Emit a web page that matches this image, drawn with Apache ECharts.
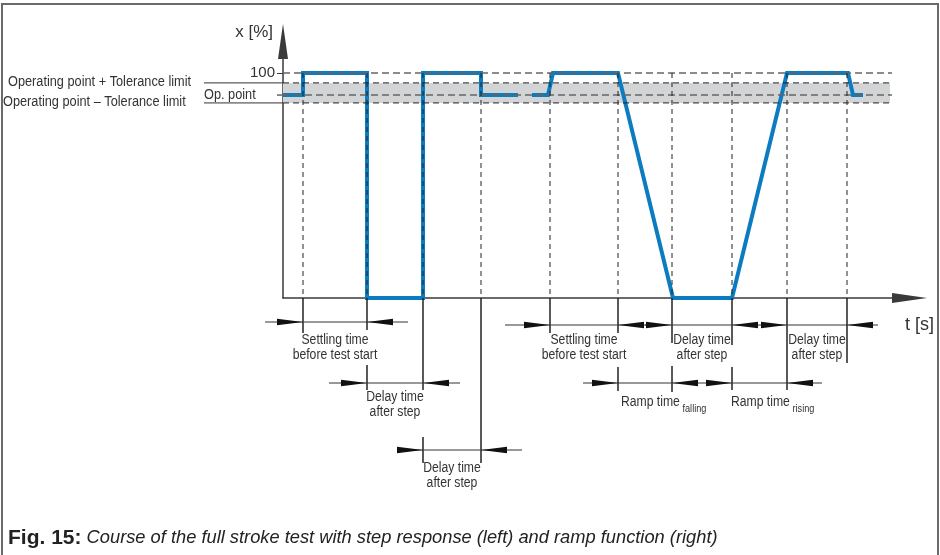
<!DOCTYPE html>
<html><head><meta charset="utf-8">
<script src="https://cdn.jsdelivr.net/npm/echarts@6/dist/echarts.min.js"></script>
<style>html,body{margin:0;padding:0;background:#fff}#c{width:940px;height:555px}</style>
</head><body><div id="c"></div>
<script>
// ---------------- data ----------------
// valve position x [%] over time t [s]
const stepTime  = [0, 2, 2, 8.4, 8.4, 14, 14, 19.8, 19.8, 23.5];
const stepValue = [90.2, 90.2, 100, 100, 0, 0, 100, 100, 90.2, 90.2];
const rampTime  = [24.9, 26.5, 27, 33.5, 39, 44.9, 50.4, 56.5, 57, 58];
const rampValue = [90.2, 90.2, 100, 100, 0, 0, 100, 100, 90.2, 90.2];
const fullStroke = 100;
const opPoint = 90.2;
const tolUpper = 95.6;
const tolLower = 86.7;
const levelEnd = 60.9;
const bandEnd = 60.7;
const markerTimes = [2, 8.4, 14, 19.8, 26.7, 33.5, 38.9, 44.9, 50.4, 56.4];
const spanStart = [2, 8.4, 14, 26.7, 38.9, 50.4, 33.5, 44.9];
const spanEnd   = [8.4, 14, 19.8, 33.5, 44.9, 56.4, 38.9, 50.4];
const spanText  = ['Settling time\nbefore test start', 'Delay time\nafter step', 'Delay time\nafter step',
                   'Settling time\nbefore test start', 'Delay time\nafter step', 'Delay time\nafter step',
                   'Ramp time', 'Ramp time'];
const spanSub   = ['', '', '', '', '', '', 'falling', 'rising'];
const yTickLabels = [100];
const yAxisName = 'x [%]';
const xAxisName = 't [s]';
const labelPlus = 'Operating point + Tolerance limit';
const labelMinus = 'Operating point \u2013 Tolerance limit';
const labelOp = 'Op. point';
const captionBold = 'Fig. 15:';
const captionText = ' Course of the full stroke test with step response (left) and ramp function (right)';

// ---------------- layout / style ----------------
const FONT = "'Liberation Sans',Arial,sans-serif";
const SX = 0.87;            // horizontal squeeze to mimic the condensed face
const TXT = '#333';
const BLUE = '#0b7cbf';
const spanRow   = [24, 85, 152, 27, 27, 27, 85, 85];     // px below t axis
const spanTailL = [38, 38, 26, 45, 27, 27, 35, 30];
const spanTailR = [41, 37, 41, 28, 28, 31, 30, 35];
const spanTextY = [35, 92, 163, 35, 35, 35, 97, 97];
const spanTextDX = [0, 0, 0, 0, 0, 0, 3, -1];
const markerExt = [[[0,35]], [[0,32],[67,92]], [[0,92],[139,165]], [[0,165]], [[0,35]],
                   [[0,35],[69,93]], [[0,45],[68,94]], [[0,47],[69,92]], [[0,92]], [[0,65]]];
const HEAD = 26, HW = 3.3;

const chart = echarts.init(document.getElementById('c'), null, {renderer: 'canvas'});

function pairs(a, b) { return a.map((v, i) => [v, b[i]]); }

const option = {
  animation: false,
  grid: {left: 283, right: 30.5, top: 41.5, bottom: 257, containLabel: false},
  xAxis: {
    type: 'value', min: 0, max: 62.65,
    axisLine: {show: true, onZero: false, symbol: ['none', 'triangle'], symbolSize: [10, 35],
               lineStyle: {color: '#3a3a3a', width: 1.5}},
    axisTick: {show: false}, axisLabel: {show: false}, splitLine: {show: false}
  },
  yAxis: {
    type: 'value', min: 0, max: 114,
    axisLine: {show: true, symbol: ['none', 'triangle'], symbolSize: [10, 35],
               lineStyle: {color: '#3a3a3a', width: 1.5}},
    axisTick: {show: true, length: 6, customValues: yTickLabels, lineStyle: {color: '#3a3a3a'}},
    axisLabel: {show: true, customValues: yTickLabels, margin: 8, fontSize: 15, color: TXT, fontFamily: FONT},
    splitLine: {show: false}
  },
  series: [
    { // tolerance band
      type: 'custom', z: 1, clip: false, silent: true,
      data: [[0, tolLower, bandEnd, tolUpper]],
      encode: {x: [0, 2], y: [1, 3]},
      renderItem(params, api) {
        const a = api.coord([api.value(0), api.value(3)]);
        const b = api.coord([api.value(2), api.value(1)]);
        return {type: 'rect', shape: {x: a[0], y: a[1], width: b[0] - a[0], height: b[1] - a[1]},
                style: {fill: '#d3d4d6'}};
      }
    },
    {
      type: 'line', z: 2, clip: false, silent: true, showSymbol: false,
      data: pairs(stepTime, stepValue),
      lineStyle: {color: BLUE, width: 4, join: 'miter'}
    },
    {
      type: 'line', z: 2, clip: false, silent: true, showSymbol: false,
      data: pairs(rampTime, rampValue),
      lineStyle: {color: BLUE, width: 4, join: 'miter'}
    },
    { // horizontal reference levels
      type: 'custom', z: 3, clip: false, silent: true,
      data: [[fullStroke, 0], [tolUpper, 1], [opPoint, 2], [tolLower, 3]],
      encode: {y: 0},
      renderItem(params, api) {
        const v = api.value(0), kind = api.value(1);
        const a = api.coord([0, v]);
        const b = api.coord([levelEnd, v]);
        const tol = (kind === 1 || kind === 3);
        const ch = [{type: 'line', shape: {x1: a[0], y1: a[1], x2: b[0], y2: b[1]},
          style: {stroke: tol ? '#222' : '#666', lineWidth: tol ? 1 : 1.5, lineDash: tol ? [6, 4] : [7, 4]}}];
        if (tol) ch.push({type: 'line', shape: {x1: a[0] - 79, y1: a[1], x2: a[0], y2: a[1]},
          style: {stroke: '#333', lineWidth: 1}});
        if (kind === 2) ch.push({type: 'line', shape: {x1: a[0] - 6, y1: a[1], x2: a[0], y2: a[1]},
          style: {stroke: '#666', lineWidth: 1.5}});
        return {type: 'group', children: ch};
      }
    },
    { // vertical markers
      type: 'custom', z: 3, clip: false, silent: true,
      data: markerTimes.map((t, i) => [t, i]),
      encode: {x: 0},
      renderItem(params, api) {
        const t = api.value(0), i = api.value(1);
        const top = api.coord([t, fullStroke]);
        const bot = api.coord([t, 0]);
        const ch = [{type: 'line', shape: {x1: top[0], y1: top[1], x2: bot[0], y2: bot[1]},
          style: {stroke: '#222', lineWidth: 1, lineDash: [5, 4]}}];
        markerExt[i].forEach(s => ch.push({type: 'line',
          shape: {x1: bot[0], y1: bot[1] + s[0], x2: bot[0], y2: bot[1] + s[1]},
          style: {stroke: '#222', lineWidth: 1.5}}));
        return {type: 'group', children: ch};
      }
    },
    { // dimension annotations
      type: 'custom', z: 4, clip: false, silent: true,
      data: spanStart.map((s, i) => [s, spanEnd[i], i]),
      encode: {x: [0, 1]},
      renderItem(params, api) {
        const i = api.value(2);
        const p0 = api.coord([api.value(0), 0]);
        const p1 = api.coord([api.value(1), 0]);
        const y = p0[1] + spanRow[i];
        const x0 = p0[0], x1 = p1[0];
        const ch = [
          {type: 'line', shape: {x1: x0 - spanTailL[i], y1: y, x2: x1 + spanTailR[i], y2: y},
           style: {stroke: '#333', lineWidth: 1}},
          {type: 'polygon', shape: {points: [[x0, y], [x0 - HEAD, y - HW], [x0 - HEAD, y + HW]]}, style: {fill: '#111'}},
          {type: 'polygon', shape: {points: [[x1, y], [x1 + HEAD, y - HW], [x1 + HEAD, y + HW]]}, style: {fill: '#111'}}
        ];
        if (spanSub[i]) {
          ch.push({type: 'text', x: x0 + spanTextDX[i], y: p0[1] + spanTextY[i], scaleX: SX,
            style: {text: '{a|' + spanText[i] + '}{b|' + spanSub[i] + '}',
              rich: {a: {fontSize: 14, fontFamily: FONT, fill: TXT, lineHeight: 20, verticalAlign: 'top'},
                     b: {fontSize: 10.5, fontFamily: FONT, fill: TXT, lineHeight: 20, verticalAlign: 'bottom', padding: [0, 0, 0, 3]}},
              align: 'left', verticalAlign: 'top'}});
        } else {
          ch.push({type: 'text', x: (x0 + x1) / 2, y: p0[1] + spanTextY[i], scaleX: SX,
            style: {text: spanText[i], fontSize: 14, fontFamily: FONT, fill: TXT, lineHeight: 14.5,
              align: 'center', verticalAlign: 'top'}});
        }
        return {type: 'group', children: ch};
      }
    }
  ],
  graphic: [
    {type: 'rect', z: 0, shape: {x: 2, y: 4, width: 936, height: 620}, style: {fill: 'none', stroke: '#6a6a6a', lineWidth: 2}},
    {type: 'text', x: 273, y: 32, style: {text: yAxisName, fontSize: 17, fontFamily: FONT, fill: TXT, align: 'right', verticalAlign: 'middle'}},
    {type: 'text', x: 905, y: 325, style: {text: xAxisName, fontSize: 18, fontFamily: FONT, fill: TXT, align: 'left', verticalAlign: 'middle'}},
    {type: 'text', x: 8, y: 82, scaleX: 0.91, style: {text: labelPlus, fontSize: 14, fontFamily: FONT, fill: TXT, align: 'left', verticalAlign: 'middle'}},
    {type: 'text', x: 3, y: 102, scaleX: 0.91, style: {text: labelMinus, fontSize: 14, fontFamily: FONT, fill: TXT, align: 'left', verticalAlign: 'middle'}},
    {type: 'text', x: 204, y: 95, scaleX: 0.91, style: {text: labelOp, fontSize: 14, fontFamily: FONT, fill: TXT, align: 'left', verticalAlign: 'middle'}},
    {type: 'text', x: 8, y: 538, style: {
      text: '{b|' + captionBold + '}{i|' + captionText + '}',
      rich: {b: {fontSize: 21, fontWeight: 'bold', fontFamily: FONT, fill: '#222'},
             i: {fontSize: 18.3, fontStyle: 'italic', fontFamily: FONT, fill: '#222'}},
      verticalAlign: 'middle'}}
  ]
};
chart.setOption(option);
</script></body></html>
